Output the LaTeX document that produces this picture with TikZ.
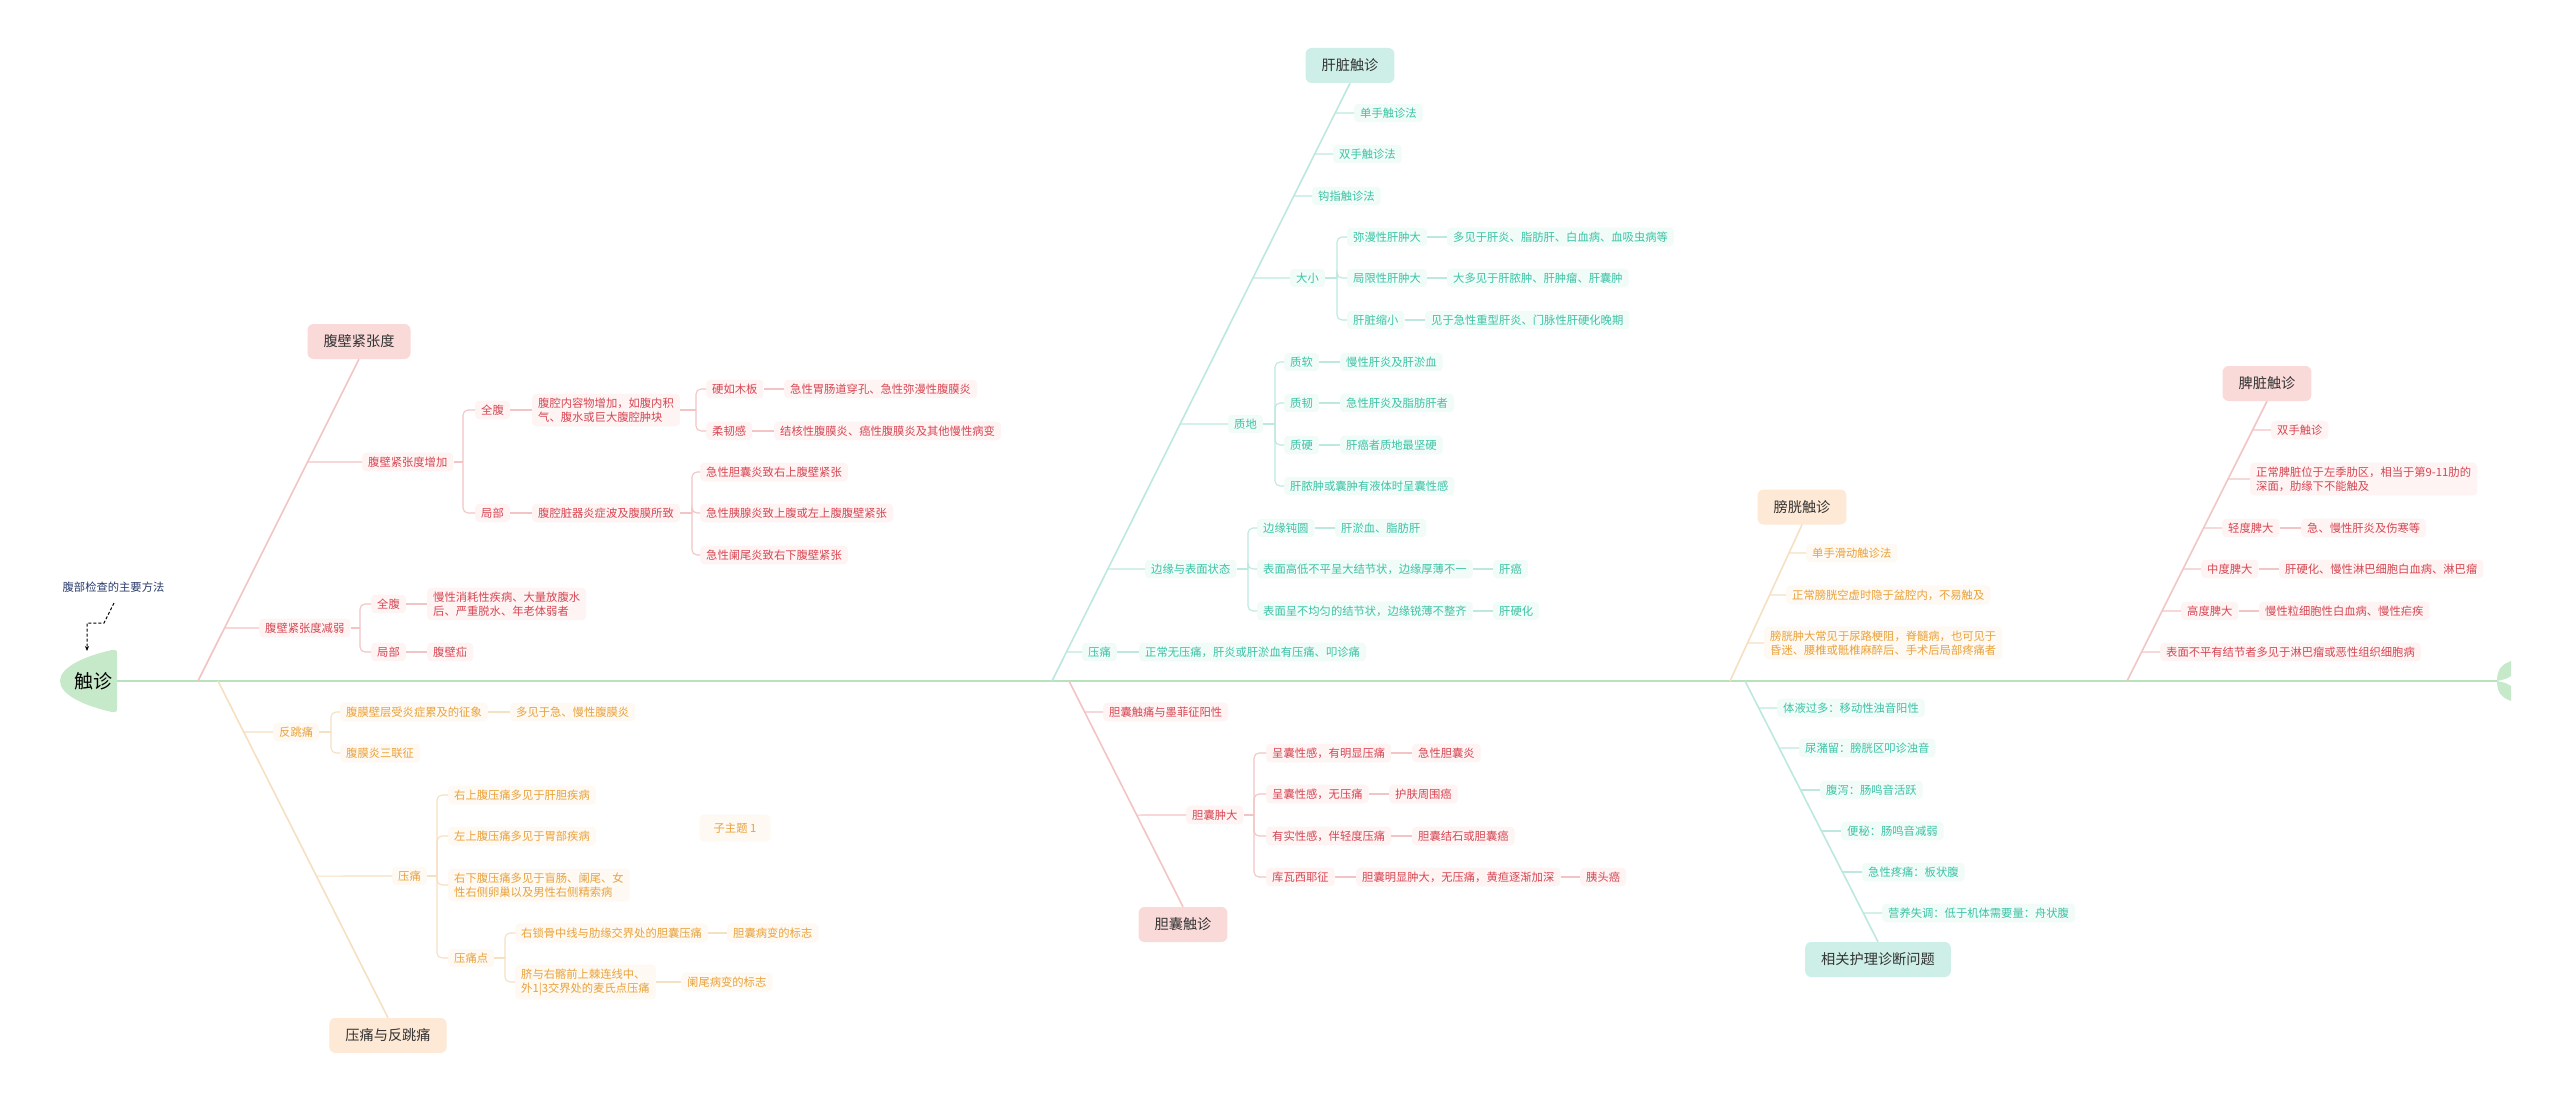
\documentclass[tikz,border=0pt]{standalone}
\usepackage{fontspec}
\setmainfont{Noto Sans CJK SC}
\usetikzlibrary{arrows.meta}
\definecolor{redT}{HTML}{D64652}
\definecolor{redL}{HTML}{F3C4C4}
\definecolor{redBox}{HTML}{FAD9D9}
\definecolor{redBg}{HTML}{FEF4F4}
\definecolor{orgT}{HTML}{E9A23B}
\definecolor{orgL}{HTML}{F6E0C2}
\definecolor{orgBox}{HTML}{FDE9D5}
\definecolor{orgBg}{HTML}{FEF9F2}
\definecolor{tealT}{HTML}{3CC3A5}
\definecolor{tealL}{HTML}{BDE8DF}
\definecolor{tealBox}{HTML}{CDEFE7}
\definecolor{tealBg}{HTML}{F1FBF8}
\definecolor{spineC}{HTML}{B8E2BD}
\definecolor{rootFill}{HTML}{C6EAC9}
\definecolor{mainT}{HTML}{333333}
\definecolor{noteT}{HTML}{2B3D6E}
\newcommand\smallfnt{\fontsize{11.3}{14}\selectfont}
\newcommand\mainfnt{\fontsize{14.2}{17}\selectfont}
\newcommand\rootfnt{\fontsize{19}{22}\selectfont}
\begin{document}
\begin{tikzpicture}[x=1pt,y=-1pt,
  base/.style={anchor=west,xshift=-3pt,inner xsep=6pt,inner ysep=4pt,rounded corners=4pt,font=\smallfnt,align=left},
  rn/.style={base,text=redT,fill=redBg},
  on/.style={base,text=orgT,fill=orgBg},
  tn/.style={base,text=tealT,fill=tealBg},
  mainbox/.style={rounded corners=6pt,inner xsep=16pt,inner ysep=0pt,minimum height=35pt,font=\mainfnt,text=mainT},
  rl/.style={draw=redL,line width=1.1pt},
  ol/.style={draw=orgL,line width=1.1pt},
  tl/.style={draw=tealL,line width=1.1pt},
  rbone/.style={draw=redL,line width=1.6pt},
  obone/.style={draw=orgL,line width=1.6pt},
  tbone/.style={draw=tealL,line width=1.6pt},
  brk/.style={rounded corners=5pt}
]
\useasboundingbox (0,0) rectangle (2560,1102);
\fill[white] (0,0) rectangle (2560,1102);

% ---------- root and spine ----------
\fill[rootFill] (112,650) .. controls (117,650) .. (117,655) -- (117,707) .. controls (117,712) .. (112,712)
  .. controls (85,706) and (60,695) .. (60,681) .. controls (60,667) and (85,656) .. (112,650) -- cycle;
\node[font=\rootfnt,text=black] (root) at (93,681) {触诊};
\coordinate (rootE) at (117,681);
\coordinate (tail) at (2497,681);
\draw[draw=spineC,line width=2pt] (rootE) -- (tail);
\fill[rootFill] (2497,681) .. controls (2497,668) and (2503,664) .. (2511,661) -- (2511,676) .. controls (2506,679) .. (2497,681) -- cycle;
\fill[rootFill] (2497,681) .. controls (2497,694) and (2503,698) .. (2511,701) -- (2511,686) .. controls (2506,683) .. (2497,681) -- cycle;

\node[font=\smallfnt,text=noteT] (note) at (113.5,587) {腹部检查的主要方法};
\coordinate (n0) at (114,603);
\coordinate (rootT) at (87,651);
\draw[dashed,dash pattern=on 3pt off 2pt,line width=1pt,-{Stealth[length=5pt,width=4pt]}] (n0) -- (104,623) -- (87,623) -- (rootT);

% ---------- top-left: 腹壁紧张度 ----------
\node[mainbox,fill=redBox] (rA) at (359,341.5) {腹壁紧张度};
\coordinate (bA0) at (198,681);
\coordinate (bA1) at (rA.south);
\draw[rbone] (bA0) -- (bA1);
\node[rn] (r1) at (365,462) {腹壁紧张度增加};
\node[rn] (r11) at (478,410) {全腹};
\node[rn] (r111) at (535,410) {腹腔内容物增加，如腹内积\\气、腹水或巨大腹腔肿块};
\node[rn] (r1111) at (709,389) {硬如木板};
\node[rn] (r11111) at (787,389) {急性胃肠道穿孔、急性弥漫性腹膜炎};
\node[rn] (r1112) at (709,431) {柔韧感};
\node[rn] (r11121) at (777,431) {结核性腹膜炎、癌性腹膜炎及其他慢性病变};
\node[rn] (r12) at (478,513) {局部};
\node[rn] (r121) at (535,513) {腹腔脏器炎症波及腹膜所致};
\node[rn] (r1211) at (703,472) {急性胆囊炎致右上腹壁紧张};
\node[rn] (r1212) at (703,513) {急性胰腺炎致上腹或左上腹腹壁紧张};
\node[rn] (r1213) at (703,555) {急性阑尾炎致右下腹壁紧张};
\node[rn] (r2) at (262,628) {腹壁紧张度减弱};
\node[rn] (r21) at (374,604) {全腹};
\node[rn] (r211) at (430,604) {慢性消耗性疾病、大量放腹水\\后、严重脱水、年老体弱者};
\node[rn] (r22) at (374,652) {局部};
\node[rn] (r221) at (430,652) {腹壁疝};

\draw[rl] (intersection of bA0--bA1 and r1.west--r1.east) -- (r1.west);
\draw[rl] (intersection of bA0--bA1 and r2.west--r2.east) -- (r2.west);
\coordinate (kr1) at (463,462);
\draw[rl] (r1.east) -- (kr1);
\draw[rl,brk] (kr1) |- (r11.west);
\draw[rl,brk] (kr1) |- (r12.west);
\draw[rl] (r11.east) -- (r111.west);
\coordinate (kr111) at (696,410);
\draw[rl] (r111.east) -- (kr111);
\draw[rl,brk] (kr111) |- (r1111.west);
\draw[rl,brk] (kr111) |- (r1112.west);
\draw[rl] (r1111.east) -- (r11111.west);
\draw[rl] (r1112.east) -- (r11121.west);
\draw[rl] (r12.east) -- (r121.west);
\coordinate (kr121) at (692,513);
\draw[rl] (r121.east) -- (kr121);
\draw[rl,brk] (kr121) |- (r1211.west);
\draw[rl,brk] (kr121) |- (r1212.west);
\draw[rl,brk] (kr121) |- (r1213.west);
\coordinate (kr2) at (360,628);
\draw[rl] (r2.east) -- (kr2);
\draw[rl,brk] (kr2) |- (r21.west);
\draw[rl,brk] (kr2) |- (r22.west);
\draw[rl] (r21.east) -- (r211.west);
\draw[rl] (r22.east) -- (r221.west);

% ---------- bottom-left: 压痛与反跳痛 ----------
\node[mainbox,fill=orgBox] (oA) at (388,1035.5) {压痛与反跳痛};
\coordinate (bB0) at (218,681);
\coordinate (bB1) at (oA.north);
\draw[obone] (bB0) -- (bB1);
\node[on] (o1) at (276,732) {反跳痛};
\node[on] (o11) at (343,712) {腹膜壁层受炎症累及的征象};
\node[on] (o111) at (513,712) {多见于急、慢性腹膜炎};
\node[on] (o12) at (343,753) {腹膜炎三联征};
\node[on] (o2) at (395,876) {压痛};
\node[on] (o21) at (451,795) {右上腹压痛多见于肝胆疾病};
\node[on] (o22) at (451,836) {左上腹压痛多见于胃部疾病};
\node[on] (o23) at (451,885) {右下腹压痛多见于盲肠、阑尾、女\\性右侧卵巢以及男性右侧精索病};
\node[on] (o24) at (451,958) {压痛点};
\node[on] (o241) at (518,933) {右锁骨中线与肋缘交界处的胆囊压痛};
\node[on] (o2411) at (730,933) {胆囊病变的标志};
\node[on] (o242) at (518,982) {脐与右髂前上棘连线中、\\外1|3交界处的麦氏点压痛};
\node[on] (o2421) at (684,982) {阑尾病变的标志};
\node[font=\smallfnt,text=orgT,fill=orgBg,rounded corners=4pt,inner xsep=14pt,minimum height=27pt] (oX) at (735,828) {子主题 1};

\draw[ol] (intersection of bB0--bB1 and o1.west--o1.east) -- (o1.west);
\draw[ol] (intersection of bB0--bB1 and o2.west--o2.east) -- (o2.west);
\coordinate (ko1) at (331,732);
\draw[ol] (o1.east) -- (ko1);
\draw[ol,brk] (ko1) |- (o11.west);
\draw[ol,brk] (ko1) |- (o12.west);
\draw[ol] (o11.east) -- (o111.west);
\coordinate (ko2) at (437,876);
\draw[ol] (o2.east) -- (ko2);
\draw[ol,brk] (ko2) |- (o21.west);
\draw[ol,brk] (ko2) |- (o22.west);
\draw[ol,brk] (ko2) |- (o23.west);
\draw[ol,brk] (ko2) |- (o24.west);
\coordinate (ko24) at (505,958);
\draw[ol] (o24.east) -- (ko24);
\draw[ol,brk] (ko24) |- (o241.west);
\draw[ol,brk] (ko24) |- (o242.west);
\draw[ol] (o241.east) -- (o2411.west);
\draw[ol] (o242.east) -- (o2421.west);

% ---------- top-middle: 肝脏触诊 ----------
\node[mainbox,fill=tealBox] (tA) at (1350,65.5) {肝脏触诊};
\coordinate (bC0) at (1052,681);
\coordinate (bC1) at (tA.south);
\draw[tbone] (bC0) -- (bC1);
\node[tn] (t1) at (1357,113) {单手触诊法};
\node[tn] (t2) at (1336,154) {双手触诊法};
\node[tn] (t3) at (1315,196) {钩指触诊法};
\node[tn] (t4) at (1293,278) {大小};
\node[tn] (t41) at (1350,237) {弥漫性肝肿大};
\node[tn] (t411) at (1450,237) {多见于肝炎、脂肪肝、白血病、血吸虫病等};
\node[tn] (t42) at (1350,278) {局限性肝肿大};
\node[tn] (t421) at (1450,278) {大多见于肝脓肿、肝肿瘤、肝囊肿};
\node[tn] (t43) at (1350,320) {肝脏缩小};
\node[tn] (t431) at (1428,320) {见于急性重型肝炎、门脉性肝硬化晚期};
\node[tn] (t5) at (1231,424) {质地};
\node[tn] (t51) at (1287,362) {质软};
\node[tn] (t511) at (1343,362) {慢性肝炎及肝淤血};
\node[tn] (t52) at (1287,403) {质韧};
\node[tn] (t521) at (1343,403) {急性肝炎及脂肪肝者};
\node[tn] (t53) at (1287,445) {质硬};
\node[tn] (t531) at (1343,445) {肝癌者质地最坚硬};
\node[tn] (t54) at (1287,486) {肝脓肿或囊肿有液体时呈囊性感};
\node[tn] (t6) at (1148,569) {边缘与表面状态};
\node[tn] (t61) at (1260,528) {边缘钝圆};
\node[tn] (t611) at (1338,528) {肝淤血、脂肪肝};
\node[tn] (t62) at (1260,569) {表面高低不平呈大结节状，边缘厚薄不一};
\node[tn] (t621) at (1496,569) {肝癌};
\node[tn] (t63) at (1260,611) {表面呈不均匀的结节状，边缘锐薄不整齐};
\node[tn] (t631) at (1496,611) {肝硬化};
\node[tn] (t7) at (1085,652) {压痛};
\node[tn] (t71) at (1142,652) {正常无压痛，肝炎或肝淤血有压痛、叩诊痛};

\foreach \n in {t1,t2,t3,t4,t5,t6,t7}
  \draw[tl] (intersection of bC0--bC1 and \n.west--\n.east) -- (\n.west);
\coordinate (kt4) at (1337,278);
\draw[tl] (t4.east) -- (kt4);
\foreach \n in {t41,t42,t43} \draw[tl,brk] (kt4) |- (\n.west);
\draw[tl] (t41.east) -- (t411.west);
\draw[tl] (t42.east) -- (t421.west);
\draw[tl] (t43.east) -- (t431.west);
\coordinate (kt5) at (1275,424);
\draw[tl] (t5.east) -- (kt5);
\foreach \n in {t51,t52,t53,t54} \draw[tl,brk] (kt5) |- (\n.west);
\draw[tl] (t51.east) -- (t511.west);
\draw[tl] (t52.east) -- (t521.west);
\draw[tl] (t53.east) -- (t531.west);
\coordinate (kt6) at (1248,569);
\draw[tl] (t6.east) -- (kt6);
\foreach \n in {t61,t62,t63} \draw[tl,brk] (kt6) |- (\n.west);
\draw[tl] (t61.east) -- (t611.west);
\draw[tl] (t62.east) -- (t621.west);
\draw[tl] (t63.east) -- (t631.west);
\draw[tl] (t7.east) -- (t71.west);

% ---------- bottom-middle: 胆囊触诊 ----------
\node[mainbox,fill=redBox] (pA) at (1183,924.5) {胆囊触诊};
\coordinate (bD0) at (1069,681);
\coordinate (bD1) at (pA.north);
\draw[rbone] (bD0) -- (bD1);
\node[rn] (p1) at (1106,712) {胆囊触痛与墨菲征阳性};
\node[rn] (p2) at (1189,815) {胆囊肿大};
\node[rn] (p21) at (1269,753) {呈囊性感，有明显压痛};
\node[rn] (p211) at (1415,753) {急性胆囊炎};
\node[rn] (p22) at (1269,794) {呈囊性感，无压痛};
\node[rn] (p221) at (1392,794) {护肤周围癌};
\node[rn] (p23) at (1269,836) {有实性感，伴轻度压痛};
\node[rn] (p231) at (1415,836) {胆囊结石或胆囊癌};
\node[rn] (p24) at (1269,877) {库瓦西耶征};
\node[rn] (p241) at (1359,877) {胆囊明显肿大，无压痛，黄疸逐渐加深};
\node[rn] (p2411) at (1583,877) {胰头癌};
\foreach \n in {p1,p2}
  \draw[rl] (intersection of bD0--bD1 and \n.west--\n.east) -- (\n.west);
\coordinate (kp2) at (1254,815);
\draw[rl] (p2.east) -- (kp2);
\foreach \n in {p21,p22,p23,p24} \draw[rl,brk] (kp2) |- (\n.west);
\draw[rl] (p21.east) -- (p211.west);
\draw[rl] (p22.east) -- (p221.west);
\draw[rl] (p23.east) -- (p231.west);
\draw[rl] (p24.east) -- (p241.west);
\draw[rl] (p241.east) -- (p2411.west);

% ---------- top-right: 膀胱触诊 ----------
\node[mainbox,fill=orgBox] (oB) at (1802,507) {膀胱触诊};
\coordinate (bE0) at (1730,681);
\coordinate (bE1) at (oB.south);
\draw[obone] (bE0) -- (bE1);
\node[on] (ob1) at (1809,553) {单手滑动触诊法};
\node[on] (ob2) at (1789,595) {正常膀胱空虚时隐于盆腔内，不易触及};
\node[on] (ob3) at (1767,643) {膀胱肿大常见于尿路梗阻，脊髓病，也可见于\\昏迷、腰椎或骶椎麻醉后、手术后局部疼痛者};
\foreach \n in {ob1,ob2,ob3}
  \draw[ol] (intersection of bE0--bE1 and \n.west--\n.east) -- (\n.west);

% ---------- bottom-right: 相关护理诊断问题 ----------
\node[mainbox,fill=tealBox] (tB) at (1878,959.5) {相关护理诊断问题};
\coordinate (bF0) at (1745,681);
\coordinate (bF1) at (tB.north);
\draw[tbone] (bF0) -- (bF1);
\node[tn] (tb1) at (1780,708) {体液过多：移动性浊音阳性};
\node[tn] (tb2) at (1802,748) {尿潴留：膀胱区叩诊浊音};
\node[tn] (tb3) at (1823,790) {腹泻：肠鸣音活跃};
\node[tn] (tb4) at (1844,831) {便秘：肠鸣音减弱};
\node[tn] (tb5) at (1865,872) {急性疼痛：板状腹};
\node[tn] (tb6) at (1885,913) {营养失调：低于机体需要量：舟状腹};
\foreach \n in {tb1,tb2,tb3,tb4,tb5,tb6}
  \draw[tl] (intersection of bF0--bF1 and \n.west--\n.east) -- (\n.west);

% ---------- far right: 脾脏触诊 ----------
\node[mainbox,fill=redBox] (rB) at (2267,383.5) {脾脏触诊};
\coordinate (bG0) at (2127,681);
\coordinate (bG1) at (rB.south);
\draw[rbone] (bG0) -- (bG1);
\node[rn] (rb1) at (2274,430) {双手触诊};
\node[rn] (rb2) at (2253,479) {正常脾脏位于左季肋区，相当于第9-11肋的\\深面，肋缘下不能触及};
\node[rn] (rb3) at (2225,528) {轻度脾大};
\node[rn] (rb31) at (2304,528) {急、慢性肝炎及伤寒等};
\node[rn] (rb4) at (2204,569) {中度脾大};
\node[rn] (rb41) at (2282,569) {肝硬化、慢性淋巴细胞白血病、淋巴瘤};
\node[rn] (rb5) at (2184,611) {高度脾大};
\node[rn] (rb51) at (2262,611) {慢性粒细胞性白血病、慢性疟疾};
\node[rn] (rb6) at (2163,652) {表面不平有结节者多见于淋巴瘤或恶性组织细胞病};
\foreach \n in {rb1,rb2,rb3,rb4,rb5,rb6}
  \draw[rl] (intersection of bG0--bG1 and \n.west--\n.east) -- (\n.west);
\draw[rl] (rb3.east) -- (rb31.west);
\draw[rl] (rb4.east) -- (rb41.west);
\draw[rl] (rb5.east) -- (rb51.west);
\end{tikzpicture}
\end{document}
